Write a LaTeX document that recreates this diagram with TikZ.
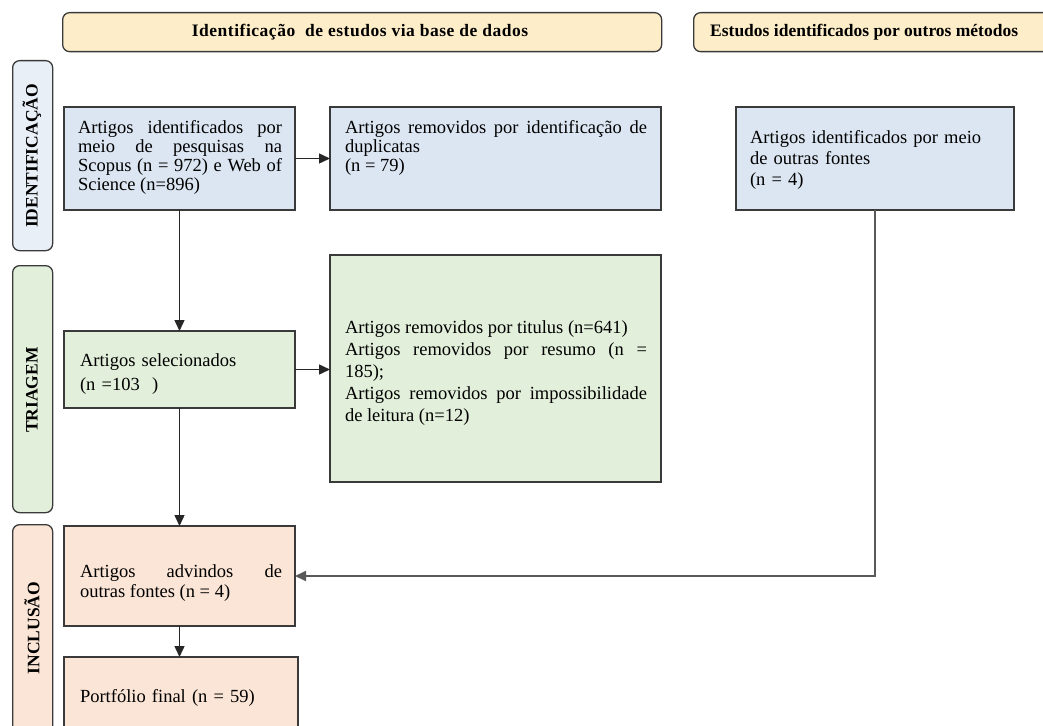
\documentclass[tikz,border=0pt]{standalone}
\usepackage{fontspec}
\setmainfont{Liberation Serif}
\newfontfamily\hdrfont[LetterSpace=3]{Liberation Serif}
\usetikzlibrary{arrows.meta}
\definecolor{hdr}{HTML}{FDEDC9}
\definecolor{bl}{HTML}{DCE6F2}
\definecolor{gr}{HTML}{E2EFDA}
\definecolor{pe}{HTML}{FBE5D6}
\definecolor{barone}{HTML}{E9EFF7}
\definecolor{edge}{HTML}{3A3A3A}
\begin{document}
\begin{tikzpicture}[x=1pt,y=-1pt,
 box/.style={draw=edge,line width=1.3pt,anchor=north west,inner sep=0pt,outer sep=0pt},
 txt/.style={anchor=base west,inner sep=0pt,outer sep=0pt,font=\fontsize{18.5}{19}\selectfont,align=justify},
 side/.style={draw=edge,line width=1.3pt,rounded corners=7pt,anchor=north west,minimum width=40pt,inner sep=0pt},
 sidetxt/.style={rotate=90,font=\fontsize{17.5}{20}\selectfont\bfseries,inner sep=0pt},
 hdrbox/.style={draw=edge,line width=1.3pt,rounded corners=7pt,fill=hdr,anchor=north west,minimum height=39pt,inner sep=0pt},
 hdrtxt/.style={font=\fontsize{17.5}{19}\selectfont\bfseries,inner sep=0pt},
 arr/.style={draw=black!85,line width=1.4pt,-{Triangle[length=11pt,width=10pt]}}]
\useasboundingbox (0,0) rectangle (1043,725);
\clip (0,0) rectangle (1043,725);
% headers
\node[hdrbox, minimum width=599pt] (H1) at (62,12) {};
\node[hdrtxt, font=\hdrfont\fontsize{17.5}{19}\selectfont\bfseries, anchor=base] (H1t) at (360,37) {Identificação\ \ de estudos via base de dados};
\node[hdrbox, minimum width=400pt] (H2) at (693,12) {};
\node[hdrtxt, anchor=base west] (H2t) at (710,37) {Estudos identificados por outros métodos};
% side bars
\node[side, fill=barone, minimum height=190pt] (S1) at (12,60) {};
\node[sidetxt] (S1t) at (32,156) {IDENTIFICAÇÃO};
\node[side, fill=gr, minimum height=247pt] (S2) at (12,265) {};
\node[sidetxt] (S2t) at (32,390) {TRIAGEM};
\node[side, fill=pe, minimum height=240pt] (S3) at (12,524) {};
\node[sidetxt] (S3t) at (32,628) {INCLUSÃO};
% boxes
\node[box, fill=bl, minimum width=231pt, minimum height=103pt] (A) at (64,107) {};
\node[box, fill=bl, minimum width=331pt, minimum height=103pt] (B) at (330,107) {};
\node[box, fill=bl, minimum width=278pt, minimum height=103pt] (C) at (736,107) {};
\node[box, fill=gr, minimum width=231pt, minimum height=77pt] (D) at (64,331) {};
\node[box, fill=gr, minimum width=331pt, minimum height=227pt] (E) at (330,255) {};
\node[box, fill=pe, minimum width=231pt, minimum height=100pt] (F) at (64,526) {};
\node[box, fill=pe, minimum width=234pt, minimum height=90pt] (G) at (64,657) {};
% texts
\node[txt, text width=204pt] (tA) at (78,133) {Artigos identificados por\linebreak meio de pesquisas na\linebreak Scopus (n = 972) e Web of\linebreak Science (n=896)};
\node[txt, text width=302pt] (tB) at (345,133) {Artigos removidos por identificação de\linebreak duplicatas\\(n = 79)};
\node[txt, text width=270pt, align=left, font=\fontsize{18.5}{21}\selectfont] (tC) at (750,143) {Artigos identificados por meio\\de outras fontes\\(n = 4)};
\node[txt, text width=200pt, align=left, font=\fontsize{18.5}{24}\selectfont] (tD) at (80,366) {Artigos selecionados\\(n =103\ \ )};
\node[txt, text width=302pt, font=\fontsize{18.5}{22}\selectfont] (tE) at (345,333) {Artigos removidos por titulus (n=641)\\Artigos removidos por resumo (n =\linebreak 185);\\Artigos removidos por impossibilidade\linebreak de leitura (n=12)};
\node[txt, text width=202pt, font=\fontsize{18.5}{20}\selectfont] (tF) at (80,577) {Artigos advindos de\linebreak outras fontes (n = 4)};
\node[txt, text width=210pt, align=left] (tG) at (80,702) {Portfólio final (n = 59)};
% connectors
\draw[arr] (A.east) -- (B.west);
\draw[arr] (A.south) -- (D.north);
\draw[arr] (D.east) -- (D.east -| E.west);
\draw[arr] (D.south) -- (D.south |- F.north);
\draw[arr] (F.south) -- (F.south |- G.north);
\draw[arr, draw=black!65, line width=1.7pt] (C.south) |- (F.east);
\end{tikzpicture}
\end{document}
